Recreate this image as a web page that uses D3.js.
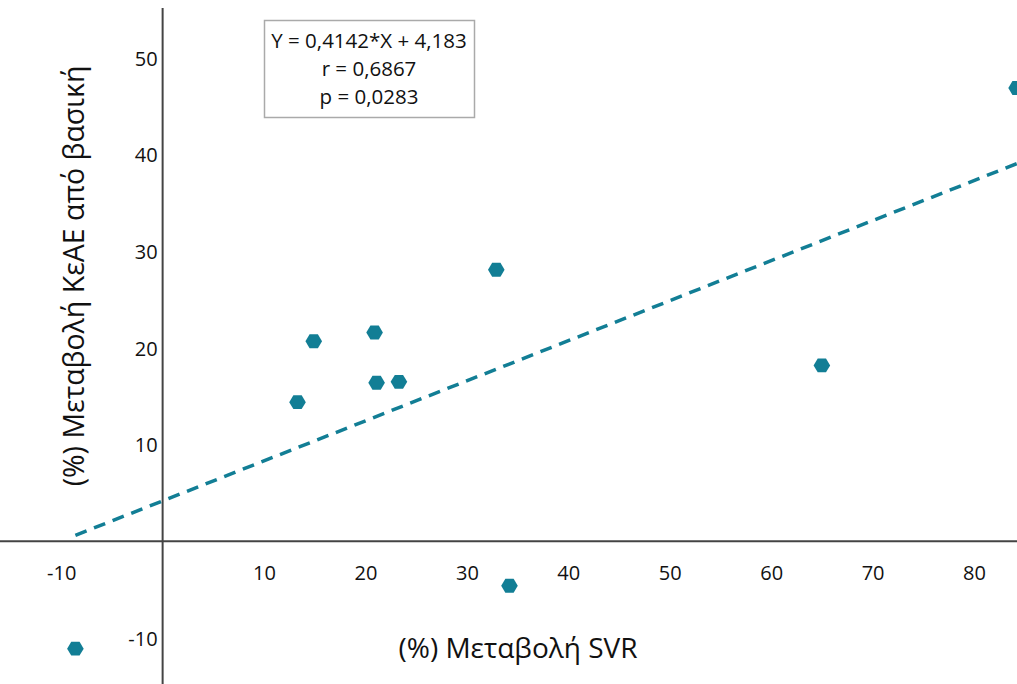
<!DOCTYPE html>
<html><head><meta charset="utf-8">
<script src="https://cdn.jsdelivr.net/npm/d3@7"></script>
<style>body{margin:0;background:#fff}svg{display:block}text{font-family:"Open Sans","Noto Sans",sans-serif;fill:#111}</style>
</head><body><svg id="c" width="1017" height="684"></svg>
<script>
const xValues = [13.3, 14.9, 20.9, 21.1, 23.3, 32.9, 34.2, 65.0, 84.2, -8.6];
const yValues = [14.4, 20.7, 21.6, 16.4, 16.5, 28.1, -4.6, 18.2, 46.9, -11.1];
const xTicks = [-10, 10, 20, 30, 40, 50, 60, 70, 80];
const yTicks = [-10, 10, 20, 30, 40, 50];
const slope = 0.4142, intercept = 4.183;
const fitRange = [-8.6, 84.5];
const statLines = ["Y = 0,4142*X + 4,183", "r = 0,6867", "p = 0,0283"];
const xTitle = "(%) Μεταβολή SVR";
const yTitle = "(%) Μεταβολή ΚεΑΕ από βασική";
const color = "#127e95";

const svg = d3.select("#c");
const x = d3.scaleLinear().domain([-10, 80]).range([61.2, 974]);
const y = d3.scaleLinear().domain([-10, 50]).range([638, 58]);
const fmt = d => String(d);

svg.append("line").attr("x1", 0).attr("x2", 1017).attr("y1", y(0)).attr("y2", y(0)).attr("stroke", "#444").attr("stroke-width", 2);
svg.append("line").attr("x1", x(0)).attr("x2", x(0)).attr("y1", 8).attr("y2", 684).attr("stroke", "#444").attr("stroke-width", 2);

const xa = d3.axisBottom(x).tickValues(xTicks).tickSize(0).tickPadding(0).tickFormat(fmt);
const gx = svg.append("g").attr("transform", `translate(0,${y(0)})`).call(xa);
gx.select(".domain").remove();
gx.selectAll("text").attr("dy", 0).attr("y", 38.5).style("font-size", "20px").attr("fill", "#111");

const ya = d3.axisLeft(y).tickValues(yTicks).tickSize(0).tickPadding(0).tickFormat(fmt);
const gy = svg.append("g").attr("transform", `translate(${x(0) - 5},0)`).call(ya);
gy.select(".domain").remove();
gy.selectAll("text").attr("dy", "0.35em").style("font-size", "20px").attr("fill", "#111");

svg.append("line")
  .attr("x1", x(fitRange[0])).attr("y1", y(slope * fitRange[0] + intercept))
  .attr("x2", x(fitRange[1])).attr("y2", y(slope * fitRange[1] + intercept))
  .attr("stroke", color).attr("stroke-width", 3.5).attr("stroke-dasharray", "12,8");

const hex = d3.range(6).map(i => { const a = Math.PI / 3 * i; return [8.3 * Math.cos(a), 8 * Math.sin(a)]; });
svg.append("g").selectAll("path").data(xValues.map((v, i) => [v, yValues[i]])).join("path")
  .attr("transform", d => `translate(${x(d[0])},${y(d[1])})`)
  .attr("d", "M" + hex.map(p => p.join(",")).join("L") + "Z")
  .attr("fill", color);

svg.append("rect").attr("x", 264.5).attr("y", 20.5).attr("width", 210).attr("height", 97).attr("fill", "#fff").attr("stroke", "#aaa").attr("stroke-width", 1.5);
svg.append("g").selectAll("text").data(statLines).join("text")
  .attr("x", 369).attr("y", (d, i) => 48 + i * 28).attr("text-anchor", "middle").style("font-size", "20.5px").text(d => d);

svg.append("text").attr("x", 518).attr("y", 658).attr("text-anchor", "middle").style("font-size", "28px").text(xTitle);
svg.append("text").attr("transform", `translate(84,276) rotate(-90)`).attr("text-anchor", "middle").style("font-size", "28.5px").text(yTitle);
</script></body></html>
